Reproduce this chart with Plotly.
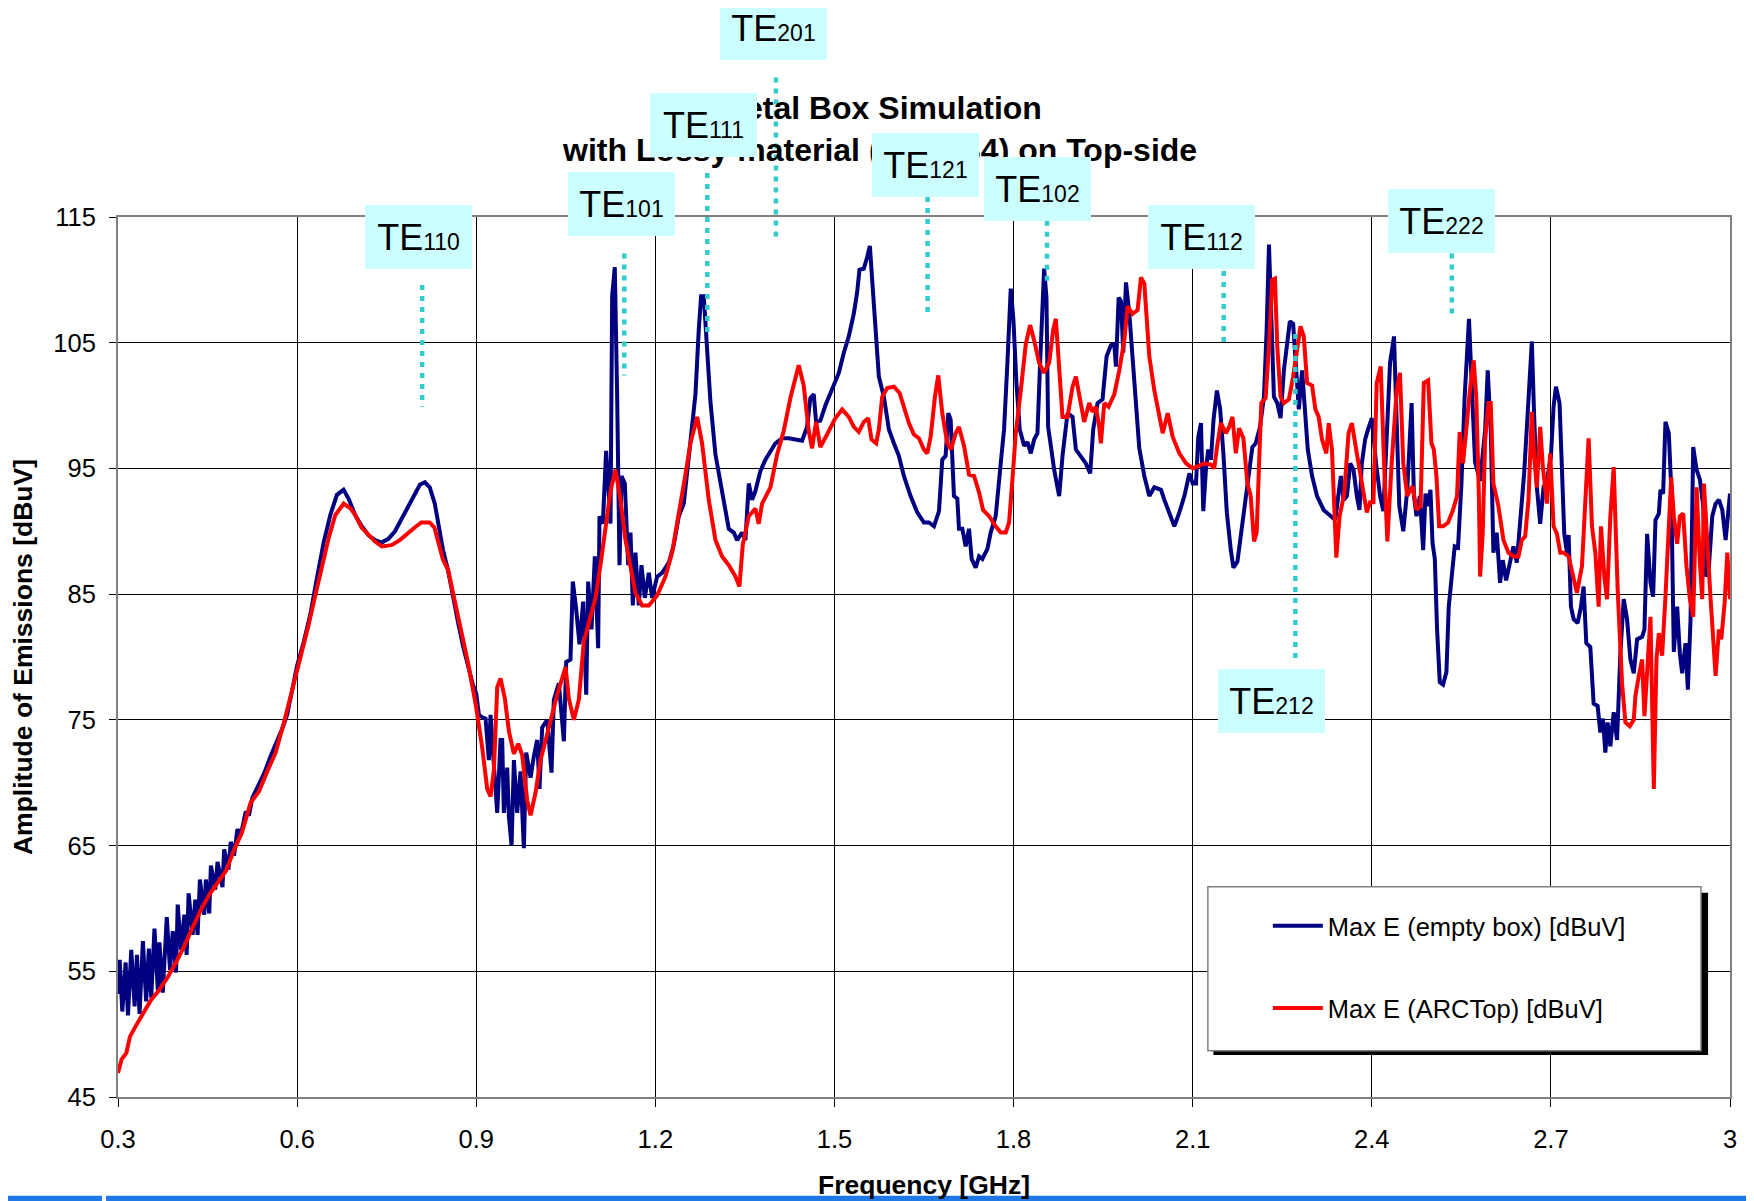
import plotly.graph_objects as go

# ---------------- data ----------------
blue_freq = [
    0.3000, 0.3028, 0.3072, 0.3128, 0.3167, 0.3222, 0.3278, 0.3317, 0.3361, 0.3417,
    0.3472, 0.3517, 0.3556, 0.3611, 0.3667, 0.3694, 0.3750, 0.3817, 0.3872, 0.3917,
    0.3972, 0.4000, 0.4056, 0.4111, 0.4150, 0.4183, 0.4250, 0.4294, 0.4333, 0.4372,
    0.4444, 0.4472, 0.4528, 0.4556, 0.4628, 0.4667, 0.4750, 0.4778, 0.4850, 0.4889,
    0.4944, 0.5000, 0.5056, 0.5139, 0.5194, 0.5250, 0.5333, 0.5444, 0.5556, 0.5639,
    0.5750, 0.5833, 0.5917, 0.6000, 0.6111, 0.6222, 0.6333, 0.6444, 0.6556, 0.6667,
    0.6778, 0.6861, 0.6972, 0.7083, 0.7194, 0.7306, 0.7417, 0.7528, 0.7639, 0.7750,
    0.7861, 0.7972, 0.8056, 0.8139, 0.8222, 0.8306, 0.8361, 0.8444, 0.8528, 0.8611,
    0.8694, 0.8778, 0.8861, 0.8944, 0.9000,
    0.9045, 0.9100, 0.9156, 0.9212, 0.9240, 0.9296, 0.9352, 0.9407, 0.9435, 0.9463,
    0.9519, 0.9547, 0.9592, 0.9631, 0.9686, 0.9742, 0.9798, 0.9837, 0.9910, 0.9965,
    1.0021, 1.0060, 1.0105, 1.0189, 1.0261, 1.0300, 1.0384, 1.0468, 1.0507, 1.0579,
    1.0618, 1.0674, 1.0730, 1.0791, 1.0842, 1.0875, 1.0931, 1.0987, 1.1042, 1.1065,
    1.1121, 1.1176, 1.1249, 1.1277, 1.1321, 1.1360, 1.1400, 1.1433, 1.1489, 1.1545,
    1.1584, 1.1623, 1.1667, 1.1723, 1.1768, 1.1824, 1.1891, 1.1946, 1.2030, 1.2114,
    1.2225, 1.2309, 1.2393, 1.2477, 1.2560, 1.2616, 1.2672, 1.2728, 1.2767, 1.2811,
    1.2867, 1.2923, 1.3007, 1.3090, 1.3174, 1.3230, 1.3314, 1.3369, 1.3453, 1.3509,
    1.3565, 1.3621, 1.3676, 1.3760, 1.3844, 1.3928, 1.4011, 1.4123, 1.4234, 1.4458,
    1.4541, 1.4597, 1.4653, 1.4692, 1.4764, 1.4848, 1.4960,
    1.5073, 1.5157, 1.5240, 1.5324, 1.5380, 1.5419, 1.5492, 1.5548, 1.5593, 1.5632,
    1.5688, 1.5744, 1.5828, 1.5912, 1.5996, 1.6079, 1.6163, 1.6275, 1.6387, 1.6499,
    1.6583, 1.6667, 1.6751, 1.6806, 1.6862, 1.6907, 1.6946, 1.7002, 1.7058, 1.7086,
    1.7142, 1.7198, 1.7254, 1.7299, 1.7366, 1.7422, 1.7478, 1.7562, 1.7617, 1.7701,
    1.7785, 1.7841, 1.7897, 1.7953, 1.7998, 1.8048, 1.8104, 1.8177, 1.8233, 1.8289,
    1.8345, 1.8400, 1.8445, 1.8484, 1.8512, 1.8551, 1.8579, 1.8624, 1.8680, 1.8764,
    1.8820, 1.8904, 1.8988, 1.9044, 1.9128, 1.9211, 1.9284, 1.9334, 1.9407, 1.9491,
    1.9558, 1.9631, 1.9687, 1.9715, 1.9760, 1.9799, 1.9838, 1.9883, 1.9939, 1.9994,
    2.0050, 2.0106, 2.0190, 2.0274, 2.0358, 2.0470, 2.0526, 2.0609, 2.0693, 2.0777,
    2.0861, 2.0945, 2.1001,
    2.1056, 2.1094, 2.1139, 2.1178, 2.1222, 2.1261, 2.1306, 2.1350, 2.1406, 2.1461,
    2.1517, 2.1572, 2.1639, 2.1683, 2.1750, 2.1817, 2.1872, 2.1944, 2.2000, 2.2056,
    2.2128, 2.2194, 2.2239, 2.2278, 2.2317, 2.2361, 2.2417, 2.2472, 2.2528, 2.2583,
    2.2628, 2.2683, 2.2722, 2.2778, 2.2833, 2.2872, 2.2928, 2.3000, 2.3083, 2.3194,
    2.3306, 2.3389, 2.3444, 2.3483, 2.3528, 2.3583, 2.3639, 2.3694, 2.3750, 2.3794,
    2.3833, 2.3889, 2.3944, 2.4000, 2.4072, 2.4139, 2.4194, 2.4250, 2.4306, 2.4372,
    2.4417, 2.4461, 2.4528, 2.4594, 2.4667, 2.4706, 2.4750, 2.4806, 2.4861, 2.4900,
    2.4944, 2.4983, 2.5017, 2.5056, 2.5094, 2.5139, 2.5194, 2.5250, 2.5289, 2.5333,
    2.5389, 2.5444, 2.5500, 2.5556, 2.5628,
    2.5690, 2.5730, 2.5814, 2.5898, 2.5942, 2.5993, 2.6037, 2.6093, 2.6149, 2.6194,
    2.6250, 2.6317, 2.6373, 2.6429, 2.6485, 2.6552, 2.6608, 2.6681, 2.6720, 2.6765,
    2.6821, 2.6877, 2.6933, 2.7000, 2.7045, 2.7084, 2.7145, 2.7185, 2.7224, 2.7269,
    2.7297, 2.7336, 2.7381, 2.7448, 2.7504, 2.7548, 2.7593, 2.7660, 2.7716, 2.7783,
    2.7828, 2.7873, 2.7912, 2.7951, 2.7996, 2.8052, 2.8108, 2.8164, 2.8220, 2.8276,
    2.8332, 2.8388, 2.8444, 2.8528, 2.8567, 2.8612, 2.8668, 2.8712, 2.8752, 2.8808,
    2.8835, 2.8880, 2.8919, 2.8975, 2.9015, 2.9059, 2.9115, 2.9160, 2.9199, 2.9255,
    2.9294, 2.9339, 2.9384, 2.9440, 2.9496, 2.9552, 2.9591, 2.9647, 2.9703, 2.9759,
    2.9815, 2.9871, 2.9927, 3.0000,
]
blue_dbuv = [
    53.2, 55.9, 51.8, 55.7, 51.5, 56.7, 52.2, 56.3, 51.6, 57.4,
    52.6, 56.8, 52.9, 58.4, 53.5, 57.3, 53.3, 59.3, 55.1, 58.2,
    54.9, 60.3, 56.7, 59.5, 56.3, 61.2, 57.9, 60.7, 57.9, 62.3,
    59.5, 62.3, 59.6, 63.4, 61.5, 63.7, 61.7, 64.7, 63.1, 65.3,
    64.2, 66.3, 65.8, 67.7, 67.4, 68.8, 69.6, 70.7, 72.1, 73.0,
    74.3, 75.4, 77.3, 79.3, 81.2, 83.4, 86.3, 89.1, 91.3, 92.9,
    93.3, 92.6, 91.3, 90.4, 89.7, 89.3, 89.1, 89.4, 90.0, 91.0,
    91.9, 92.9, 93.7, 93.9, 93.5, 92.2, 90.7, 88.5, 86.9, 84.7,
    82.8, 80.9, 79.3, 77.8, 77.1,
    75.4, 75.2, 75.1, 71.8, 75.4, 71.4, 67.6, 73.4, 73.4, 67.6,
    71.2, 67.3, 65.0, 71.8, 67.6, 70.9, 64.8, 72.4, 70.4, 72.1,
    73.4, 69.5, 74.4, 75.0, 70.8, 76.6, 77.9, 73.3, 79.6, 79.8,
    86.0, 83.8, 81.0, 84.4, 77.0, 86.0, 82.2, 88.0, 80.7, 91.2,
    90.6, 96.4, 90.6, 108.7, 111.0, 100.9, 87.3, 94.4, 93.8, 87.3,
    89.9, 84.1, 88.3, 84.1, 87.3, 84.7, 86.7, 84.7, 86.4, 86.7,
    87.5, 88.9, 91.2, 92.2, 95.7, 98.7, 100.9, 106.1, 108.7, 108.7,
    104.5, 100.3, 96.1, 93.8, 91.9, 90.2, 89.9, 89.3, 89.9, 89.3,
    93.8, 92.5, 93.2, 94.8, 95.7, 96.4, 97.0, 97.4, 97.4, 97.2,
    98.3, 100.6, 100.9, 98.7, 98.8, 100.0, 101.2,
    102.6, 104.2, 105.5, 107.3, 109.0, 110.8, 110.9, 111.8, 112.7, 110.0,
    106.0, 102.3, 100.7, 98.1, 97.0, 96.0, 94.4, 92.8, 91.5, 90.7,
    90.7, 90.4, 91.6, 95.7, 96.0, 99.4, 98.9, 92.8, 92.6, 90.2,
    90.2, 88.8, 90.2, 87.8, 87.1, 88.0, 87.8, 88.6, 89.9, 91.2,
    95.4, 98.1, 103.4, 109.3, 106.8, 101.8, 98.1, 96.8, 97.1, 96.2,
    97.3, 97.8, 103.4, 108.6, 110.9, 108.6, 98.3, 96.8, 94.9, 92.8,
    96.0, 99.4, 99.1, 96.5, 96.0, 95.4, 94.6, 98.1, 100.2, 100.5,
    103.9, 104.8, 104.9, 103.1, 108.6, 108.3, 104.2, 109.8, 107.3, 103.4,
    99.4, 96.6, 94.4, 92.8, 93.5, 93.3, 92.5, 91.5, 90.4, 91.5,
    92.8, 94.6, 93.8,
    93.8, 97.5, 98.6, 91.6, 94.9, 96.5, 95.7, 98.9, 101.2, 99.7,
    96.0, 91.5, 88.5, 87.1, 87.6, 90.1, 92.0, 94.9, 96.7, 97.0,
    98.3, 100.7, 106.0, 112.8, 106.0, 100.7, 100.2, 99.0, 102.8, 105.2,
    106.7, 106.5, 103.4, 99.7, 102.8, 100.4, 96.5, 94.4, 92.8, 91.7,
    91.2, 90.9, 93.0, 94.4, 92.5, 92.8, 95.4, 94.9, 92.8, 91.7,
    95.4, 97.3, 98.2, 99.0, 95.4, 92.8, 91.6, 98.1, 103.4, 105.5,
    98.1, 92.0, 90.0, 93.3, 100.2, 92.8, 91.2, 92.8, 88.5, 93.0,
    92.0, 93.3, 89.1, 87.8, 82.2, 78.0, 77.8, 78.8, 84.0, 85.9,
    88.8, 88.7, 93.6, 100.7, 106.9,
    99.9, 95.5, 94.0, 98.0, 102.8, 98.0, 88.3, 89.9, 85.9, 87.7,
    86.1, 87.7, 88.8, 87.5, 90.6, 94.6, 99.1, 105.1, 99.1, 93.5,
    90.6, 93.5, 94.1, 95.9, 99.9, 101.5, 100.2, 95.7, 89.8, 88.3,
    89.7, 84.0, 83.0, 82.7, 84.0, 85.6, 81.1, 80.8, 76.3, 76.1,
    74.0, 75.1, 72.4, 74.8, 72.9, 75.6, 73.4, 80.3, 84.6, 83.0,
    79.8, 78.7, 81.4, 81.6, 82.2, 89.8, 85.9, 84.8, 90.9, 91.4,
    93.3, 93.0, 98.7, 97.8, 93.5, 80.4, 84.0, 80.3, 78.7, 81.1,
    77.4, 83.0, 96.7, 94.9, 94.1, 92.0, 86.4, 87.2, 91.2, 92.2,
    92.5, 91.7, 89.3, 93.0,
]

red_freq = [
    0.300, 0.306, 0.314, 0.320, 0.328, 0.342, 0.355, 0.369, 0.383, 0.397,
    0.411, 0.425, 0.439, 0.453, 0.467, 0.481, 0.494, 0.508, 0.522, 0.536,
    0.550, 0.564, 0.578, 0.592, 0.606, 0.619, 0.631, 0.642, 0.653, 0.664,
    0.678, 0.690, 0.697, 0.708, 0.719, 0.730, 0.742, 0.758, 0.772, 0.786,
    0.797, 0.808, 0.822, 0.830, 0.836, 0.844, 0.853, 0.861, 0.869, 0.878,
    0.886,
    0.8989, 0.9100, 0.9184, 0.9240, 0.9296, 0.9352, 0.9407, 0.9480, 0.9547, 0.9631,
    0.9703, 0.9770, 0.9854, 0.9910, 0.9993, 1.0077, 1.0217, 1.0356, 1.0496, 1.0551,
    1.0635, 1.0719, 1.0802, 1.0914, 1.0998, 1.1081, 1.1165, 1.1249, 1.1333, 1.1416,
    1.1500, 1.1584, 1.1667, 1.1779, 1.1891, 1.2030, 1.2170, 1.2281, 1.2393, 1.2504,
    1.2588, 1.2700, 1.2783, 1.2895, 1.3007, 1.3118, 1.3230, 1.3342, 1.3408, 1.3464,
    1.3565, 1.3676, 1.3732, 1.3788, 1.3928, 1.4039, 1.4151, 1.4262, 1.4402, 1.4485,
    1.4569, 1.4625, 1.4692, 1.4764, 1.4876, 1.5016,
    1.5129, 1.5240, 1.5324, 1.5408, 1.5492, 1.5565, 1.5621, 1.5699, 1.5744, 1.5800,
    1.5884, 1.5996, 1.6091, 1.6163, 1.6247, 1.6331, 1.6415, 1.6499, 1.6555, 1.6611,
    1.6683, 1.6739, 1.6806, 1.6890, 1.6952, 1.7030, 1.7086, 1.7170, 1.7254, 1.7338,
    1.7422, 1.7489, 1.7590, 1.7701, 1.7785, 1.7869, 1.7925, 1.7981, 1.8037, 1.8121,
    1.8205, 1.8277, 1.8345, 1.8428, 1.8512, 1.8596, 1.8663, 1.8708, 1.8764, 1.8820,
    1.8904, 1.8988, 1.9044, 1.9100, 1.9183, 1.9267, 1.9323, 1.9379, 1.9435, 1.9463,
    1.9519, 1.9592, 1.9687, 1.9771, 1.9855, 1.9911, 1.9994, 2.0078, 2.0134, 2.0190,
    2.0274, 2.0358, 2.0442, 2.0498, 2.0582, 2.0666, 2.0777, 2.0889, 2.1001,
    2.1194, 2.1306, 2.1361, 2.1417, 2.1472, 2.1556, 2.1611, 2.1667, 2.1722, 2.1778,
    2.1850, 2.1917, 2.1972, 2.2028, 2.2072, 2.2111, 2.2150, 2.2222, 2.2278, 2.2333,
    2.2378, 2.2417, 2.2472, 2.2528, 2.2611, 2.2683, 2.2750, 2.2806, 2.2861, 2.2917,
    2.3000, 2.3056, 2.3111, 2.3167, 2.3239, 2.3278, 2.3333, 2.3406, 2.3461, 2.3539,
    2.3611, 2.3667, 2.3739, 2.3806, 2.3861, 2.3917, 2.3972, 2.4028, 2.4083, 2.4150,
    2.4206, 2.4261, 2.4333, 2.4417, 2.4472, 2.4528, 2.4594, 2.4683, 2.4750, 2.4817,
    2.4872, 2.4944, 2.5000, 2.5039, 2.5083, 2.5128, 2.5194, 2.5278, 2.5361, 2.5428,
    2.5472, 2.5528, 2.5583, 2.5639, 2.5706, 2.5750, 2.5794,
    2.5814, 2.5858, 2.5898, 2.5954, 2.5993, 2.6037, 2.6121, 2.6205, 2.6289, 2.6373,
    2.6457, 2.6513, 2.6569, 2.6625, 2.6681, 2.6720, 2.6765, 2.6821, 2.6866, 2.6933,
    2.6989, 2.7045, 2.7101, 2.7157, 2.7213, 2.7297, 2.7353, 2.7436, 2.7520, 2.7576,
    2.7632, 2.7688, 2.7744, 2.7800, 2.7839, 2.7895, 2.7940, 2.7996, 2.8052, 2.8119,
    2.8192, 2.8248, 2.8321, 2.8388, 2.8416, 2.8472, 2.8528, 2.8567, 2.8612, 2.8668,
    2.8724, 2.8768, 2.8808, 2.8863, 2.8919, 2.8975, 2.9015, 2.9059, 2.9115, 2.9160,
    2.9216, 2.9272, 2.9328, 2.9384, 2.9440, 2.9496, 2.9535, 2.9563, 2.9619, 2.9675,
    2.9759, 2.9815, 2.9854, 2.9910, 2.9955, 3.0000,
]
red_dbuv = [
    46.9, 48.0, 48.5, 49.8, 50.5, 51.6, 52.7, 53.5, 54.5, 55.7,
    57.0, 58.5, 59.9, 61.1, 62.1, 63.0, 64.6, 66.1, 68.4, 69.3,
    70.9, 72.4, 74.8, 77.4, 80.0, 82.5, 85.0, 87.2, 89.5, 91.3,
    92.2, 91.8, 91.3, 90.3, 89.7, 89.2, 88.8, 88.9, 89.3, 89.9,
    90.3, 90.7, 90.7, 90.3, 89.1, 87.8, 86.9, 85.2, 83.4, 81.5,
    79.6,
    76.3, 72.8, 69.5, 68.9, 71.0, 77.6, 78.3, 76.7, 74.1, 72.3,
    73.1, 72.2, 68.6, 67.4, 69.2, 71.8, 74.4, 77.0, 79.2, 76.7,
    75.0, 76.6, 81.2, 83.1, 84.7, 87.3, 90.2, 93.2, 94.9, 92.5,
    89.3, 87.3, 85.1, 84.1, 84.1, 84.9, 86.4, 88.3, 91.2, 94.5,
    97.0, 99.1, 97.0, 92.5, 89.3, 88.0, 87.3, 86.4, 85.6, 88.9,
    91.2, 91.8, 90.6, 92.2, 93.5, 96.1, 98.0, 100.6, 103.2, 101.6,
    98.0, 96.6, 98.7, 96.7, 97.7, 99.0,
    99.7, 99.1, 98.3, 97.9, 98.7, 99.0, 97.3, 97.0, 98.1, 100.7,
    101.4, 101.5, 101.0, 99.9, 98.6, 97.7, 97.4, 96.5, 96.2, 97.5,
    100.7, 102.4, 99.4, 97.0, 96.5, 97.8, 98.3, 96.8, 94.5, 94.4,
    93.1, 91.7, 91.2, 90.4, 89.9, 89.9, 90.7, 94.1, 97.8, 101.2,
    104.9, 106.4, 105.2, 103.4, 102.6, 103.4, 106.0, 106.9, 102.8, 99.1,
    99.1, 101.5, 102.3, 101.0, 98.7, 100.2, 99.5, 99.9, 98.3, 97.0,
    100.2, 99.9, 100.9, 102.8, 105.2, 107.9, 107.3, 107.6, 110.2, 109.7,
    103.9, 101.2, 99.1, 97.8, 99.4, 97.5, 96.2, 95.4, 95.0,
    95.4, 95.3, 95.0, 97.0, 98.6, 97.8, 98.3, 99.1, 96.2, 98.2,
    97.4, 93.8, 92.8, 89.2, 89.9, 95.2, 100.2, 100.6, 104.7, 110.0,
    110.1, 104.7, 100.7, 100.2, 100.5, 102.3, 104.7, 106.3, 105.5, 101.8,
    101.6, 99.7, 99.1, 97.3, 96.2, 98.6, 96.5, 87.9, 91.2, 93.0,
    97.8, 98.6, 96.5, 94.6, 93.0, 91.5, 92.3, 92.3, 101.8, 103.1,
    95.4, 89.2, 95.4, 101.2, 102.6, 95.4, 92.8, 93.6, 91.7, 92.0,
    101.8, 102.0, 97.0, 96.5, 94.4, 90.4, 90.4, 90.7, 91.7, 92.8,
    97.9, 95.4, 98.1, 101.0, 103.6, 100.7, 92.8,
    86.4, 89.8, 97.2, 100.2, 100.2, 93.8, 92.0, 89.3, 88.3, 88.0,
    88.0, 89.3, 89.6, 92.5, 99.5, 95.9, 93.5, 98.3, 95.1, 92.2,
    96.2, 90.4, 89.8, 88.3, 88.3, 88.0, 86.9, 85.1, 87.2, 92.7,
    97.4, 90.4, 88.3, 84.0, 90.4, 86.4, 84.6, 91.2, 95.1, 85.3,
    77.9, 74.8, 74.5, 75.0, 76.9, 78.5, 79.8, 75.3, 78.7, 83.2,
    69.5, 79.8, 81.9, 80.1, 84.8, 89.8, 94.3, 91.2, 89.0, 91.2,
    91.4, 87.2, 84.6, 83.2, 93.5, 87.5, 84.6, 93.8, 88.8, 84.6,
    78.5, 82.2, 81.4, 84.3, 88.3, 84.6,
]

series_names = ["Max E (empty box) [dBuV]", "Max E (ARCTop) [dBuV]"]

x_ticks = [0.3, 0.6, 0.9, 1.2, 1.5, 1.8, 2.1, 2.4, 2.7, 3.0]
x_tick_text = ["0.3", "0.6", "0.9", "1.2", "1.5", "1.8", "2.1", "2.4", "2.7", "3"]
y_ticks = [45, 55, 65, 75, 85, 95, 105, 115]

mode_labels = ["110", "101", "111", "201", "121", "102", "112", "212", "222"]

# ---------------- layout helpers (positions of mode labels, in axis units) ----------------
X_RANGE = [0.3, 3.0]
Y_RANGE = [45, 115]
label_box_freq = [0.804, 1.144, 1.280, 1.398, 1.652, 1.840, 2.115, 2.232, 2.517]
label_box_level = [113.4, 116.0, 122.3, 130.0, 119.1, 117.2, 113.4, 76.5, 114.7]
marker_freq = [0.8095, 1.148, 1.287, 1.402, 1.656, 1.856, 2.152, 2.272, 2.534]
marker_top = [109.6, 112.1, 118.5, 126.1, 116.6, 114.7, 110.7, 105.7, 112.1]
marker_bottom = [99.9, 102.4, 105.4, 113.0, 107.1, 109.7, 104.6, 79.5, 107.1]


def level_to_paper(v):
    return (v - Y_RANGE[0]) / (Y_RANGE[1] - Y_RANGE[0])


FONT = "Liberation Sans, Arial, sans-serif"

fig = go.Figure()
fig.add_trace(go.Scatter(
    x=blue_freq, y=blue_dbuv, mode="lines", name=series_names[0],
    line=dict(color="#000080", width=4), legendgroup="a",
))
fig.add_trace(go.Scatter(
    x=red_freq, y=red_dbuv, mode="lines", name=series_names[1],
    line=dict(color="#FF0000", width=4), legendgroup="b",
))

annotations = []
# chart title (drawn first so that the mode boxes cover it)
annotations.append(dict(
    text="<b>Metal Box Simulation</b><br><b>with Lossy material (ARC-S4) on Top-side</b>",
    xref="paper", yref="paper", x=0.4724, y=1.1002, xanchor="center", yanchor="middle",
    showarrow=False, font=dict(family=FONT, size=32, color="#000000"), align="center",
))
for name, fx, lv in zip(mode_labels, label_box_freq, label_box_level):
    annotations.append(dict(
        text="TE<span style='font-size:23px'>" + name + "</span>",
        xref="x", yref="paper", x=fx, y=level_to_paper(lv),
        xanchor="center", yanchor="middle", showarrow=False,
        font=dict(family=FONT, size=36, color="#000000"),
        bgcolor="#CCFFFF", width=107, height=64, borderpad=0, borderwidth=0,
    ))

shapes = []
for fx, y0, y1 in zip(marker_freq, marker_top, marker_bottom):
    shapes.append(dict(
        type="line", xref="x", yref="paper", x0=fx, x1=fx,
        y0=level_to_paper(y0), y1=level_to_paper(y1),
        line=dict(color="#33CCCC", width=4.5, dash="5px,6px"), layer="above",
    ))

# legend frame + shadow
shapes.append(dict(type="rect", xref="paper", yref="paper",
                   x0=0.6795, x1=0.9864, y0=0.0477, y1=0.2322,
                   fillcolor="#000000", line=dict(width=0), layer="above"))
shapes.append(dict(type="rect", xref="paper", yref="paper",
                   x0=0.6761, x1=0.9820, y0=0.0526, y1=0.2390,
                   fillcolor="#FFFFFF", line=dict(color="#808080", width=1.5), layer="above"))
# blue strip at bottom of the slide
shapes.append(dict(type="rect", xref="paper", yref="paper",
                   x0=-0.0685, x1=-0.0099, y0=-0.1280, y1=-0.1122,
                   fillcolor="#1E78E6", line=dict(width=0)))
shapes.append(dict(type="rect", xref="paper", yref="paper",
                   x0=-0.0074, x1=1.02, y0=-0.1280, y1=-0.1122,
                   fillcolor="#1E78E6", line=dict(width=0)))

axis_common = dict(
    showgrid=True, gridcolor="#000000", gridwidth=1,
    showline=True, linecolor="#808080", linewidth=2, mirror=True,
    ticks="outside", tickcolor="#000000", tickwidth=1,
    tickfont=dict(family=FONT, size=25.5, color="#000000"),
    zeroline=False, automargin=False,
)

fig.update_layout(
    width=1754, height=1201,
    margin=dict(l=110, r=31.5, t=209, b=112, autoexpand=False),
    paper_bgcolor="#FFFFFF", plot_bgcolor="#FFFFFF",
    font=dict(family=FONT, color="#000000"),
    xaxis=dict(
        range=X_RANGE, tickvals=x_ticks, ticktext=x_tick_text, ticklen=8,
        ticklabelstandoff=10,
        title=dict(text="<b>Frequency [GHz]</b>", font=dict(family=FONT, size=26.5, color="#000000"),
                   standoff=24),
        **axis_common,
    ),
    yaxis=dict(
        range=Y_RANGE, tickvals=y_ticks, ticklen=7, ticklabelstandoff=8,
        title=dict(text="<b>Amplitude of Emissions [dBuV]</b>",
                   font=dict(family=FONT, size=26.5, color="#000000"), standoff=18),
        **axis_common,
    ),
    showlegend=True,
    legend=dict(
        x=0.7133, y=0.2207, xanchor="left", yanchor="top",
        bgcolor="rgba(0,0,0,0)", borderwidth=0,
        font=dict(family=FONT, size=25.5, color="#000000"),
        tracegroupgap=46, itemwidth=50,
    ),
    annotations=annotations,
    shapes=shapes,
)

fig.write_html("out.html")
